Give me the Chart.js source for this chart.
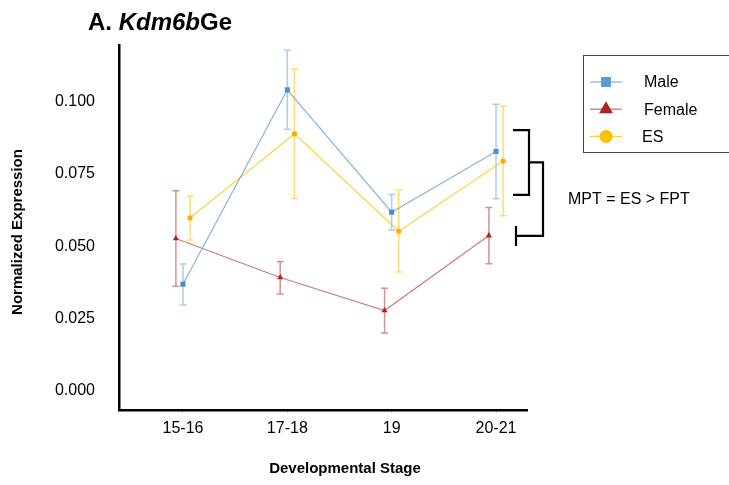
<!DOCTYPE html>
<html>
<head>
<meta charset="utf-8">
<script src="https://cdn.jsdelivr.net/npm/chart.js@4.4.1/dist/chart.umd.min.js"></script>
<style>
  html, body { margin: 0; padding: 0; background: #fff; }
  #wrap { width: 729px; height: 485px; position: relative; }
</style>
</head>
<body>
<div id="wrap"><canvas id="chart"></canvas></div>
<script>
// values
const categories = ['15-16', '17-18', '19', '20-21'];
const yTicks = [0, 0.025, 0.05, 0.075, 0.1];

const maleMean = [0.0369, 0.1041, 0.0618, 0.0828];
const maleHigh = [0.0439, 0.1178, 0.0679, 0.0991];
const maleLow  = [0.0297, 0.0905, 0.0556, 0.0664];

const femaleMean = [0.0527, 0.0392, 0.0278, 0.0537];
const femaleHigh = [0.0692, 0.0447, 0.0355, 0.0634];
const femaleLow  = [0.0362, 0.0335, 0.0200, 0.0440];

const esMean = [0.0598, 0.0889, 0.0552, 0.0795];
const esHigh = [0.0673, 0.1113, 0.0695, 0.0984];
const esLow  = [0.0522, 0.0665, 0.0411, 0.0606];

// significance bracket (y values) and its note
const bracketTop = 0.0902;
const bracketBottom = 0.0678;
const bracketLower = 0.0536;
const bracketNote = 'MPT = ES > FPT';

const FONT = '"Liberation Sans", Arial, sans-serif';

function series(label, mean, high, low, shift, color, line, bar, legendColor, style, radius, legendSize) {
  return {
    label: label,
    data: mean.map((v, i) => ({ x: i + shift, y: v })),
    high: high,
    low: low,
    borderColor: line,
    backgroundColor: color,
    pointBackgroundColor: color,
    pointBorderColor: color,
    barColor: bar,
    legendColor: legendColor,
    pointStyle: style,
    pointRadius: radius,
    borderWidth: 1.2,
    pointBorderWidth: 0,
    tension: 0,
    fill: false,
    legendSize: legendSize,
  };
}

// error bars, drawn under the lines
const errorBars = {
  id: 'errorBars',
  beforeDatasetsDraw(chart) {
    const ctx = chart.ctx;
    const y = chart.scales.y;
    chart.data.datasets.forEach((ds, di) => {
      const meta = chart.getDatasetMeta(di);
      ctx.save();
      ctx.strokeStyle = ds.barColor;
      ctx.lineWidth = 1.5;
      meta.data.forEach((pt, i) => {
        const top = y.getPixelForValue(ds.high[i]);
        const bot = y.getPixelForValue(ds.low[i]);
        ctx.beginPath();
        ctx.moveTo(pt.x, top); ctx.lineTo(pt.x, bot);
        ctx.moveTo(pt.x - 3.5, top); ctx.lineTo(pt.x + 3.5, top);
        ctx.moveTo(pt.x - 3.5, bot); ctx.lineTo(pt.x + 3.5, bot);
        ctx.stroke();
      });
      ctx.restore();
    });
  }
};

// title, axis titles, legend box, bracket
const decorations = {
  id: 'decorations',
  afterDraw(chart) {
    const ctx = chart.ctx;
    const xs = chart.scales.x, ys = chart.scales.y;
    ctx.save();
    ctx.fillStyle = '#000';

    // title
    ctx.textBaseline = 'alphabetic';
    ctx.textAlign = 'left';
    let tx = 88;
    const parts = [['bold', 'A. '], ['italic bold', 'Kdm6b'], ['bold', 'Ge']];
    parts.forEach(p => {
      ctx.font = p[0] + ' 24px ' + FONT;
      ctx.fillText(p[1], tx, 30);
      tx += ctx.measureText(p[1]).width;
    });

    // axis titles
    ctx.font = 'bold 15px ' + FONT;
    ctx.textAlign = 'center';
    ctx.textBaseline = 'middle';
    ctx.fillText('Developmental Stage', 345, 469);
    ctx.save();
    ctx.translate(18, 232);
    ctx.rotate(-Math.PI / 2);
    ctx.fillText('Normalized Expression', 0, 0);
    ctx.restore();

    // legend
    ctx.strokeStyle = '#444';
    ctx.lineWidth = 1;
    ctx.strokeRect(583.5, 55.5, 160, 97);
    ctx.font = '16px ' + FONT;
    ctx.textAlign = 'left';
    chart.data.datasets.forEach((ds, i) => {
      const ly = 82 + i * 27.2;
      ctx.strokeStyle = ds.borderColor;
      ctx.lineWidth = 1.3;
      ctx.beginPath();
      ctx.moveTo(590, ly); ctx.lineTo(622, ly);
      ctx.stroke();
      ctx.fillStyle = ds.legendColor;
      Chart.helpers.drawPoint(ctx, {
        pointStyle: ds.pointStyle, radius: ds.legendSize, rotation: 0, borderWidth: 0
      }, 606, ly);
      ctx.fillStyle = '#000';
      ctx.fillText(ds.label, i === 2 ? 642 : 644, ly + 1);
    });

    // significance bracket next to the last stage
    const bx = xs.getPixelForValue(categories.length - 1);
    const yT = ys.getPixelForValue(bracketTop);
    const yB = ys.getPixelForValue(bracketBottom);
    const yM = (yT + yB) / 2;
    const yL = ys.getPixelForValue(bracketLower);
    ctx.strokeStyle = '#000';
    ctx.lineWidth = 2.2;
    ctx.beginPath();
    ctx.moveTo(bx + 17, yT); ctx.lineTo(bx + 33, yT); ctx.lineTo(bx + 33, yB); ctx.lineTo(bx + 17, yB);
    ctx.moveTo(bx + 33, yM); ctx.lineTo(bx + 47, yM); ctx.lineTo(bx + 47, yL); ctx.lineTo(bx + 20, yL);
    ctx.moveTo(bx + 20, yL - 10); ctx.lineTo(bx + 20, yL + 10);
    ctx.stroke();
    ctx.font = '16px ' + FONT;
    ctx.textBaseline = 'middle';
    ctx.fillText(bracketNote, bx + 72, (yM + yL) / 2 + 0.5);
    ctx.restore();
  }
};

new Chart(document.getElementById('chart'), {
  type: 'line',
  data: {
    datasets: [
      series('Male', maleMean, maleHigh, maleLow, 0, '#4A8FD0',
        'rgba(91,155,213,0.75)', 'rgba(91,155,213,0.5)', '#5B9BD5', 'rect', 3.6, 7),
      series('Female', femaleMean, femaleHigh, femaleLow, -0.068, '#B22222',
        'rgba(178,34,34,0.6)', 'rgba(178,34,34,0.5)', '#B22222', 'triangle', 3.6, 8),
      series('ES', esMean, esHigh, esLow, 0.068, '#FFAA00',
        'rgba(255,192,0,0.75)', 'rgba(255,192,0,0.55)', '#FFC000', 'circle', 2.6, 6.5),
    ]
  },
  options: {
    responsive: true,
    maintainAspectRatio: false,
    devicePixelRatio: 1,
    animation: false,
    layout: { padding: { left: 0, right: 202, top: 45, bottom: 0 } },
    plugins: { legend: { display: false }, tooltip: { enabled: false } },
    scales: {
      x: {
        type: 'linear',
        min: -0.613,
        max: 3.297,
        afterBuildTicks(s) { s.ticks = categories.map((c, i) => ({ value: i })); },
        afterFit(s) { s.height = 75; },
        ticks: {
          padding: 6,
          color: '#000',
          font: { family: FONT, size: 16 },
          callback: v => categories[v],
        },
        grid: { display: true, drawOnChartArea: false, drawTicks: true, tickLength: 3, color: '#bbb' },
        border: { display: true, color: '#000', width: 2.5 },
      },
      y: {
        min: -0.0066,
        max: 0.1196,
        afterBuildTicks(s) { s.ticks = yTicks.map(v => ({ value: v })); },
        afterFit(s) { s.width = 119; },
        ticks: {
          padding: 16,
          color: '#000',
          font: { family: FONT, size: 16 },
          callback: v => v.toFixed(3),
        },
        grid: { display: false },
        border: { display: true, color: '#000', width: 2.5 },
      }
    }
  },
  plugins: [errorBars, decorations]
});
</script>
</body>
</html>
